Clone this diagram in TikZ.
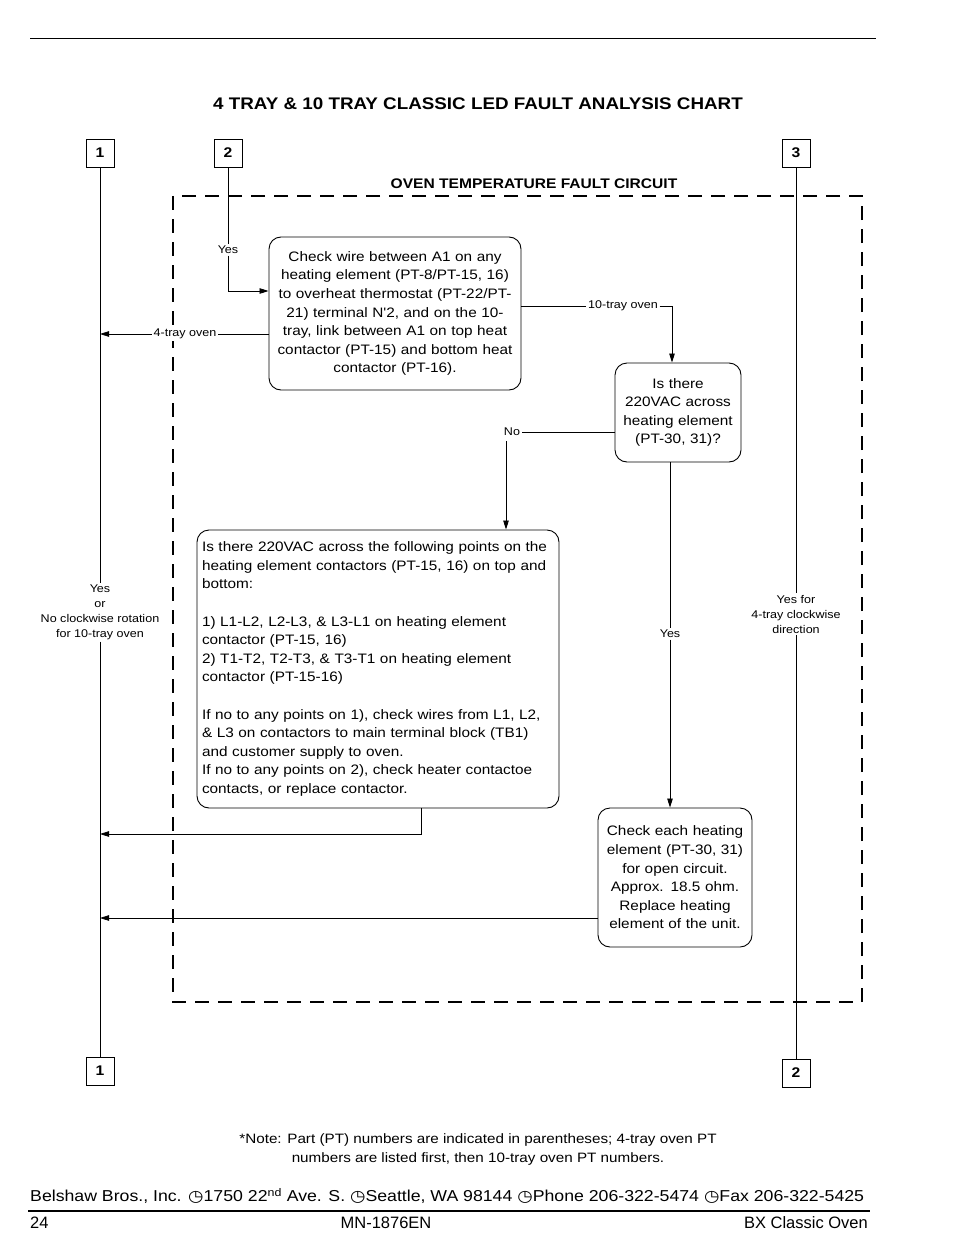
\documentclass[tikz,border=0pt]{standalone}
\usepackage{fontspec}
\setmainfont{Liberation Sans}
\newfontfamily\wdf[FakeStretch=1.12]{Liberation Sans}
\newfontfamily\djv[FakeStretch=1.12]{DejaVu Sans}
\usetikzlibrary{arrows.meta}
\newcommand{\clk}{{\djv\char"25F7}}
\tikzset{
  rbox/.style={draw, rounded corners=12pt, line width=0.9pt, align=center, inner sep=0pt,
    font=\wdf\fontsize{13.7}{18.6}\selectfont},
  nbox/.style={draw, line width=0.9pt, minimum width=28pt, minimum height=28pt, inner sep=0pt,
    font=\wdf\bfseries\fontsize{14}{15}\selectfont},
  lab/.style={font=\wdf\fontsize{11.2}{15}\selectfont, inner sep=1.5pt, align=center},
  conn/.style={line width=0.8pt},
  arr/.style={line width=0.8pt, -{Triangle[length=9pt,width=5.5pt]}},
}
\begin{document}
\begin{tikzpicture}[x=1pt,y=-1pt]
\useasboundingbox (0,0) rectangle (954,1260);
% top rule
\draw[line width=0.8pt] (30,38) -- (876,38);
\node[font=\wdf\bfseries\fontsize{16.8}{18}\selectfont] (title) at (478,104) {4 TRAY \& 10 TRAY CLASSIC LED FAULT ANALYSIS CHART};
% frame
\draw[line width=2.6pt, dash pattern=on 14pt off 9pt] (173,196) rectangle (862,1002);
\node[font=\wdf\bfseries\fontsize{13.9}{14}\selectfont, inner sep=1pt] (ftitle) at (534,184) {OVEN TEMPERATURE FAULT CIRCUIT};
% number boxes
\node[nbox] (b1) at (100,153) {1};
\node[nbox] (b2) at (228,153) {2};
\node[nbox] (b3) at (796,153) {3};
\node[nbox] (b1b) at (100,1071) {1};
\node[nbox] (b2b) at (796,1073) {2};
% boxes
\node[rbox, minimum width=252pt, minimum height=153pt, text width=250pt] (A) at (395,313.5)
 {Check wire between A1 on any\\ heating element (PT-8/PT-15, 16)\\ to overheat thermostat (PT-22/PT-\\ 21) terminal N'2, and on the 10-\\ tray, link between A1 on top heat\\ contactor (PT-15) and bottom heat\\ contactor (PT-16).};
\node[rbox, minimum width=126pt, minimum height=99pt, text width=124pt] (B) at (678,412.5)
 {Is there\\ 220VAC across\\ heating element\\ (PT-30, 31)?};
\node[rbox, minimum width=362pt, minimum height=278pt, text width=352pt, align=left] (C) at (378,669)
 {Is there 220VAC across the following points on the\\ heating element contactors (PT-15, 16) on top and\\ bottom:\\[18.6pt]
 1) L1-L2, L2-L3, \& L3-L1 on heating element\\ contactor (PT-15, 16)\\ 2) T1-T2, T2-T3, \& T3-T1 on heating element\\ contactor (PT-15-16)\\[18.6pt]
 If no to any points on 1), check wires from L1, L2,\\ \& L3 on contactors to main terminal block (TB1)\\ and customer supply to oven.\\ If no to any points on 2), check heater contactoe\\ contacts, or replace contactor.};
\node[rbox, minimum width=154pt, minimum height=139pt, text width=150pt] (D) at (675,877.5)
 {Check each heating\\ element (PT-30, 31)\\ for open circuit.\\ Approx. 18.5 ohm.\\ Replace heating\\ element of the unit.};
% labels
\node[lab] (yes2) at (228,250) {Yes};
\node[lab, fill=white] (l4) at (185,334) {4-tray oven};
\node[lab] (l10) at (623,306) {10-tray oven};
\node[lab] (lno) at (512,432) {No};
\node[lab] (lyes) at (670,634) {Yes};
\node[lab] (l1lab) at (100,612.5) {Yes\\ or\\ No clockwise rotation\\ for 10-tray oven};
\node[lab] (l3lab) at (796,614) {Yes for\\ 4-tray clockwise\\ direction};
% coordinates
\coordinate (cy) at (228,291);
\coordinate (c4) at (100,334);
\coordinate (c10) at (672,306);
\coordinate (cno) at (506,441);
\coordinate (cC) at (421,834);
\coordinate (cCl) at (100,834);
\coordinate (cDl) at (100,918);
% connectors
\draw[conn] (b2.south) -- (yes2.north);
\draw[arr] (yes2.south) -- (cy) -- (A.west |- cy);
\draw[conn] (A.west |- c4) -- (l4.east);
\draw[arr] (l4.west) -- (c4);
\draw[conn] (A.east |- c10) -- (l10.west);
\draw[arr] (l10.east) -- (c10) -- (c10 |- B.north);
\draw[conn] (B.west |- lno) -- (lno.east);
\draw[arr] (cno) -- (cno |- C.north);
\draw[conn] (B.south -| lyes) -- (lyes.north);
\draw[arr] (lyes.south) -- (lyes |- D.north);
\draw[arr] (C.south -| cC) -- (cC) -- (cCl);
\draw[arr] (D.west |- cDl) -- (cDl);
\draw[conn] (b1.south) -- (l1lab.north);
\draw[conn] (l1lab.south) -- (b1b.north);
\draw[conn] (b3.south) -- (l3lab.north);
\draw[conn] (l3lab.south) -- (b2b.north);
% note
\node[font=\wdf\fontsize{13.6}{19}\selectfont, align=center] (note) at (478,1149.5)
 {*Note: Part (PT) numbers are indicated in parentheses; 4-tray oven PT\\ numbers are listed first, then 10-tray oven PT numbers.};
% footer
\node[font=\wdf\fontsize{15.8}{18}\selectfont, anchor=west, inner sep=0pt] (addr) at (30,1196)
 {Belshaw Bros., Inc. \clk1750 22\textsuperscript{nd} Ave. S. \clk Seattle, WA 98144 \clk Phone 206-322-5474 \clk Fax 206-322-5425};
\draw[line width=1.4pt] (28,1211) -- (870,1211);
\node[font=\fontsize{16.5}{18}\selectfont, anchor=west, inner sep=0pt] (pg) at (30,1223) {24};
\node[font=\fontsize{16.5}{18}\selectfont, inner sep=0pt] (mn) at (386,1223) {MN-1876EN};
\node[font=\fontsize{16.5}{18}\selectfont, anchor=east, inner sep=0pt] (bx) at (868,1223) {BX Classic Oven};
\end{tikzpicture}
\end{document}
